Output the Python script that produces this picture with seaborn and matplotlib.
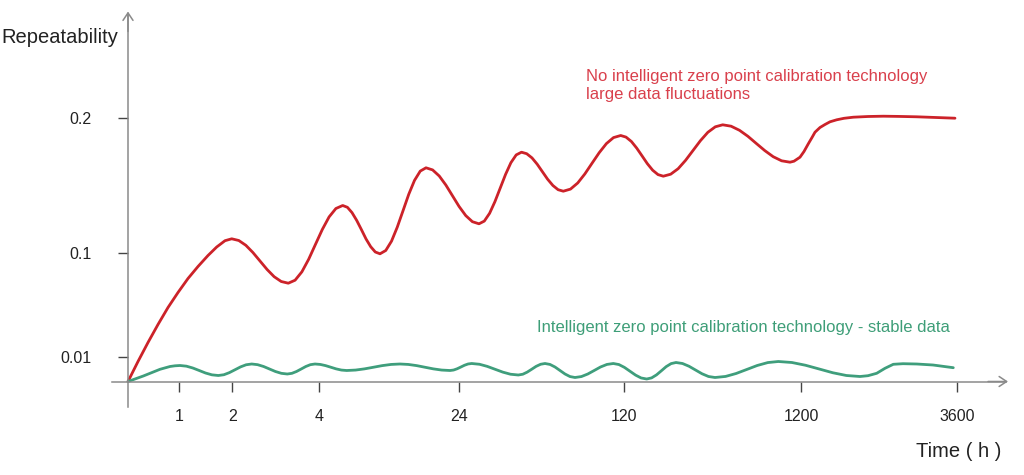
import matplotlib
matplotlib.use("Agg")
import matplotlib.pyplot as plt
import seaborn as sns
import pandas as pd

# ---- data (chart units: x = position along time axis, y = level above axis) ----
red_x = [0, 10, 20, 30, 40, 50, 60, 70, 80, 88.7, 97, 103.7,
         110.8, 117.85, 124.9, 132.0, 139.1, 146.15, 153.2, 160.3,
         167.1, 173.9, 180.7, 187.5, 194.3, 201.1, 207.9, 214.7,
         219.4, 224.0, 228.7, 233.4, 238.0, 242.7, 247.3, 252,
         257.75, 263.5, 269.25, 275.0, 280.75, 286.5, 292.25, 298,
         304.6, 311.25, 317.9, 324.5, 331.1, 337.75, 344.4, 351,
         356.3, 361.6, 366.9, 372.25, 377.6, 382.9, 388.2, 393.5,
         398.7, 404.0, 409.2, 414.4, 419.6, 424.9, 430.1, 435.3,
         442.5, 449.7, 456.8, 464.0, 471.2, 478.4, 485.5, 492.7,
         498.0, 503.4, 508.7, 514.0, 519.3, 524.65, 530.0, 535.3,
         542.7, 550.15, 557.6, 565.0, 572.4, 579.85, 587.3, 594.7,
         603.1, 611.5, 619.9, 628.35, 636.8, 645.2, 653.6, 662,
         666, 672, 676, 680.3, 684, 687, 692, 697, 702, 708.7, 716,
         725.3, 740, 755.3, 770, 788.7, 808, 827]
red_y = [0, 20, 39, 57, 74, 89, 103, 115, 126, 134.5, 140.8, 142.7,
         141.0, 136.2, 129.0, 120.5, 112.0, 104.8, 100.0, 98.3,
         101.3, 109.7, 122.3, 137.2, 152.0, 164.6, 173.0, 176,
         174.2, 168.9, 161.1, 151.9, 142.6, 134.8, 129.5, 127.7,
         131.0, 140.3, 154.3, 170.7, 187.2, 201.1, 210.4, 213.7,
         211.6, 205.5, 196.4, 185.7, 175.0, 165.9, 159.8, 157.7,
         160.4, 168.2, 179.8, 193.5, 207.2, 218.8, 226.6, 229.3,
         227.8, 223.6, 217.3, 209.8, 202.3, 196.0, 191.8, 190.3,
         192.4, 198.5, 207.5, 218.2, 228.8, 237.9, 243.9, 246,
         244.4, 240.0, 233.4, 225.7, 217.9, 211.3, 206.9, 205.3,
         207.3, 212.8, 221.2, 231.0, 240.8, 249.2, 254.7, 256.7,
         255.3, 251.2, 245.2, 238.0, 230.9, 224.8, 220.7, 219.3,
         220.3, 224.3, 230, 237.7, 244, 249.3, 254, 257, 259.7, 261.7, 263.2,
         264.3, 265, 265.3, 265.1, 264.7, 264, 263.3]

green_x = [0, 15.3, 32, 42, 47, 52,
           58.4, 64.8, 71.2, 77.5, 83.9, 90.3,
           95.9, 101.4, 107.0, 112.6, 118.1, 123.7,
           129.6, 135.6, 141.5, 147.4, 153.4, 159.3,
           163.9, 168.5, 173.2, 177.8, 182.4, 187,
           192.3, 197.6, 202.9, 208.1, 213.4, 218.7,
           227.6, 236.5, 245.4, 254.2, 263.1, 272,
           280.3, 288.7, 297, 305.3, 313.7, 322,
           325.6, 329.2, 332.9, 336.5, 340.1, 343.7,
           351.5, 359.2, 367, 374.8, 382.5, 390.3,
           394.8, 399.2, 403.7, 408.1, 412.6, 417,
           422, 427, 432, 437, 442, 447,
           453.4, 459.8, 466.2, 472.5, 478.9, 485.3,
           490.9, 496.4, 502.0, 507.6, 513.1, 518.7,
           523.6, 528.5, 533.4, 538.2, 543.1, 548,
           554.5, 561, 567.5, 574, 580.5, 587,
           597.6, 608.1, 618.7, 629.2, 639.8, 650.3,
           663.9, 677.5, 691.2, 704.8, 718.4, 732,
           740, 748.7, 757, 765.3, 775, 788.7, 805, 825.3]
green_y = [0, 5.5, 12.2, 15, 15.7, 16,
           15.33, 13.5, 11, 8.5, 6.67, 6,
           6.77, 8.88, 11.75, 14.63, 16.73, 17.5,
           16.83, 15.0, 12.5, 10.0, 8.17, 7.5,
           8.17, 10.0, 12.5, 15.0, 16.83, 17.5,
           17.06, 15.88, 14.25, 12.63, 11.44, 11,
           11.44, 12.63, 14.25, 15.88, 17.06, 17.5,
           17.06, 15.88, 14.25, 12.63, 11.44, 11,
           11.47, 12.75, 14.5, 16.25, 17.53, 18,
           17.23, 15.13, 12.25, 9.38, 7.27, 6.5,
           7.27, 9.38, 12.25, 15.13, 17.23, 18,
           17.06, 14.5, 11, 7.5, 4.94, 4,
           4.94, 7.5, 11, 14.5, 17.06, 18,
           16.96, 14.13, 10.25, 6.38, 3.54, 2.5,
           3.61, 6.63, 10.75, 14.88, 17.89, 19,
           18.0, 15.25, 11.5, 7.75, 5.0, 4,
           5.07, 8.0, 12, 16.0, 18.93, 20,
           19.0, 16.25, 12.5, 8.75, 6.0, 5,
           5.8, 8.2, 13.2, 17.2, 17.8, 17.5, 16.5, 13.8]

x_tick_pos = [51.3, 104.3, 191.3, 330.7, 496, 673, 829.3]
x_tick_labels = ["1", "2", "4", "24", "120", "1200", "3600"]
y_tick_pos = [24.8, 128.2, 263.2]
y_tick_labels = ["0.01", "0.1", "0.2"]

red_label = ["No intelligent zero point calibration technology", "large data fluctuations"]
green_label = "Intelligent zero point calibration technology - stable data"
y_title = "Repeatability"
x_title = "Time ( h )"

# ---- style ----
sns.set_style("white")
plt.rcParams["font.family"] = ["Liberation Sans", "DejaVu Sans"]

RED = "#cc2229"
GREEN = "#3f9e7c"
RED_TXT = "#d9404c"
GREEN_TXT = "#3e9e78"
AXIS = "#8a8a8a"

fig = plt.figure(figsize=(10.24, 4.75), dpi=100)
ax = fig.add_axes([0, 0, 1, 1])
ax.set_xlim(-128, 896)
ax.set_ylim(-93.5, 381.5)

red_df = pd.DataFrame({"x": red_x, "y": red_y})
green_df = pd.DataFrame({"x": green_x, "y": green_y})
sns.lineplot(data=red_df, x="x", y="y", ax=ax, color=RED, lw=2.0,
             sort=False, estimator=None, solid_joinstyle="round",
             solid_capstyle="round")
sns.lineplot(data=green_df, x="x", y="y", ax=ax, color=GREEN, lw=2.0,
             sort=False, estimator=None, solid_joinstyle="round",
             solid_capstyle="round")
ax.set_xlabel("")
ax.set_ylabel("")

# axes through origin
for s in ["top", "right"]:
    ax.spines[s].set_visible(False)
ax.spines["left"].set_position(("data", 0))
ax.spines["bottom"].set_position(("data", 0))
ax.spines["left"].set_bounds(-25, 368)
ax.spines["bottom"].set_bounds(-16, 878)
for s in ["left", "bottom"]:
    ax.spines[s].set_color(AXIS)
    ax.spines[s].set_linewidth(1.1)

arrow = dict(arrowstyle="->,head_length=0.45,head_width=0.3", color=AXIS,
             lw=1.1, shrinkA=0, shrinkB=0, mutation_scale=12)
ax.annotate("", xy=(880, 0), xytext=(860, 0), arrowprops=arrow)
ax.annotate("", xy=(0, 370), xytext=(0, 350), arrowprops=arrow)

ax.set_xticks(x_tick_pos, x_tick_labels)
ax.set_yticks(y_tick_pos, y_tick_labels)
ax.tick_params(axis="x", bottom=True, direction="out", length=7.5, width=1,
               color="#444444", pad=12, labelsize=11.5, labelcolor="#222222")
ax.tick_params(axis="y", left=True, direction="out", length=7.5, width=1,
               color="#444444", pad=19, labelsize=11.5, labelcolor="#222222")

ax.text(-127, 338.2, y_title, fontsize=14.5, color="#222222", va="baseline")
ax.text(788, -75.8, x_title, fontsize=14.5, color="#222222", va="baseline")
ax.text(458, 300.8, red_label[0], fontsize=12, color=RED_TXT, va="baseline")
ax.text(458, 282.8, red_label[1], fontsize=12, color=RED_TXT, va="baseline")
ax.text(408.7, 49.8, green_label, fontsize=12, color=GREEN_TXT, va="baseline")

fig.savefig("out.png", dpi=100, facecolor="white")
